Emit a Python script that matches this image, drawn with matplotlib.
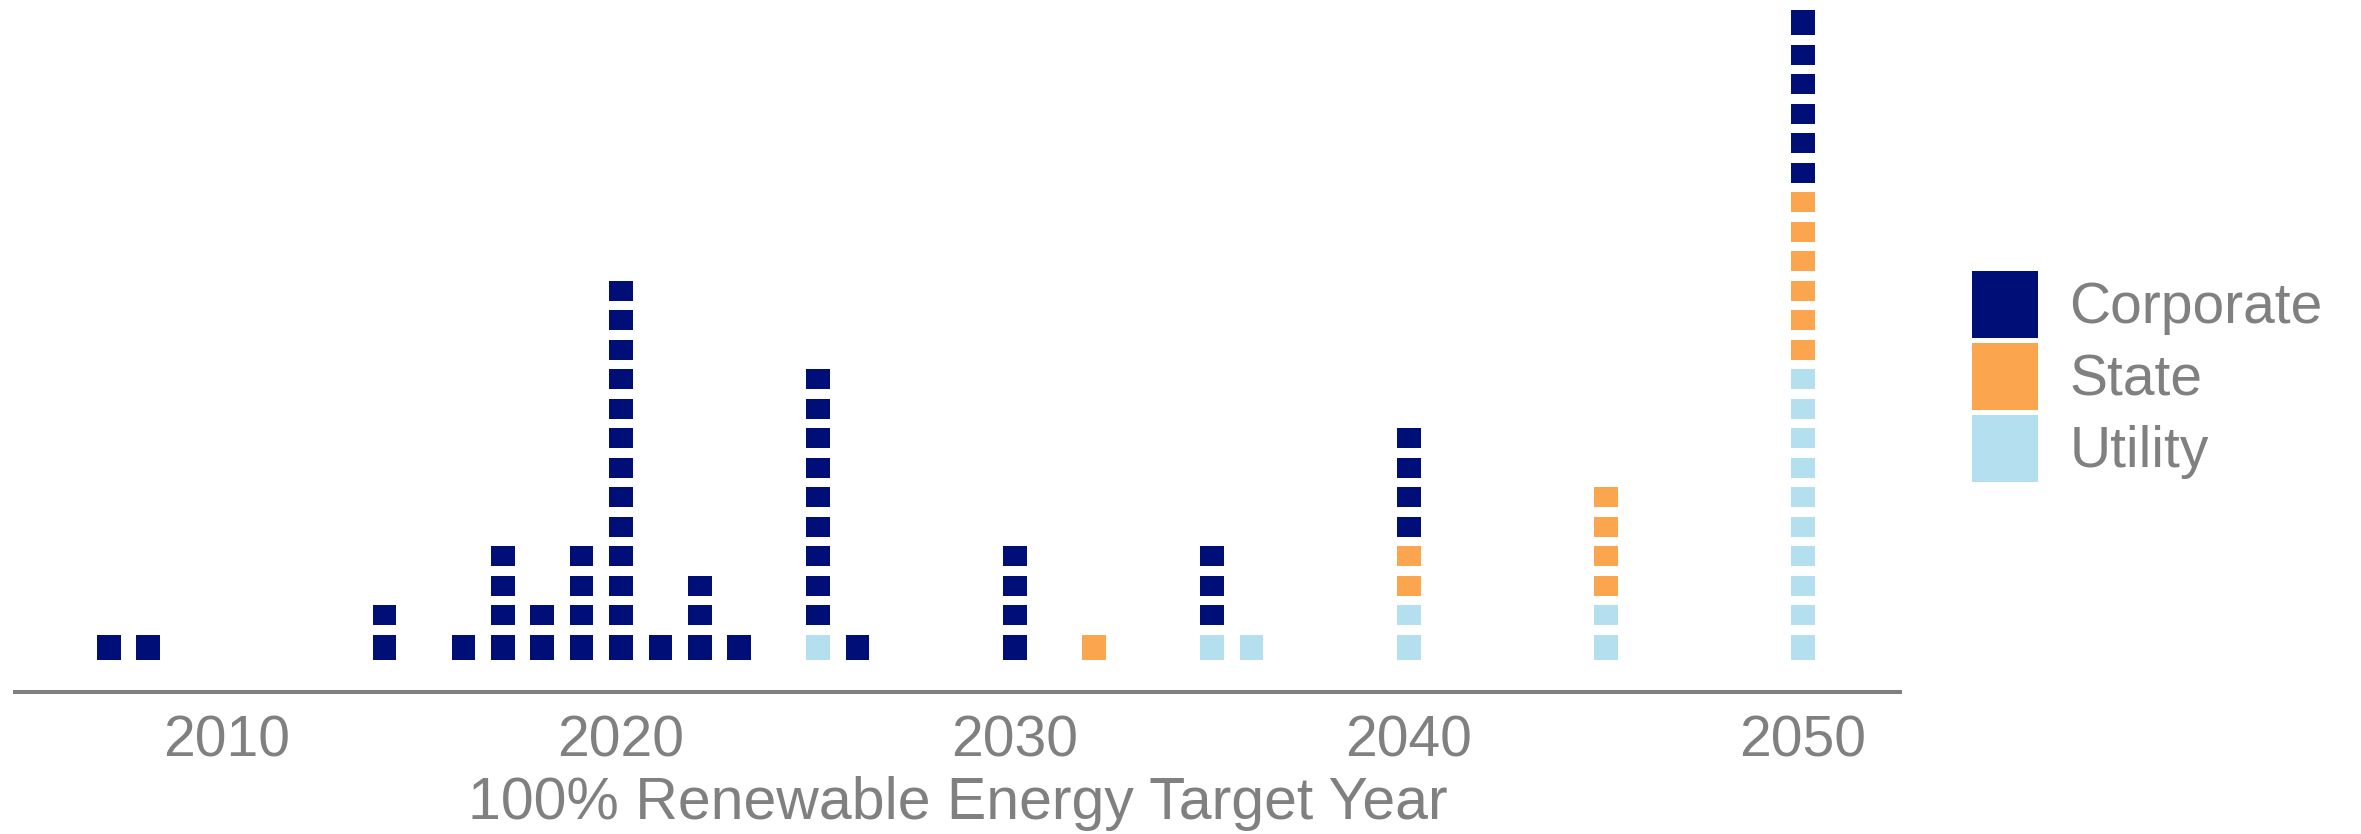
import matplotlib
matplotlib.use("Agg")
import matplotlib.pyplot as plt
from matplotlib.patches import Patch

# ---- data ----
years = [2007, 2008, 2014, 2016, 2017, 2018, 2019, 2020, 2021, 2022, 2023,
         2025, 2026, 2030, 2032, 2035, 2036, 2040, 2045, 2050]
utility = [0, 0, 0, 0, 0, 0, 0, 0, 0, 0, 0, 1, 0, 0, 0, 1, 1, 2, 2, 10]
state = [0, 0, 0, 0, 0, 0, 0, 0, 0, 0, 0, 0, 0, 0, 1, 0, 0, 2, 4, 6]
corporate = [1, 1, 2, 1, 4, 2, 4, 13, 1, 3, 1, 9, 1, 4, 0, 3, 0, 4, 0, 6]
categories = ["Corporate", "State", "Utility"]
tick_years = [2010, 2020, 2030, 2040, 2050]
xlabel = "100% Renewable Energy Target Year"

colors = {"Corporate": "#000e78", "State": "#fca54f", "Utility": "#b4dfee"}
grey = "#808080"

plt.rcParams["font.family"] = ["Liberation Sans", "DejaVu Sans"]

W, H = 2361, 834
fig = plt.figure(figsize=(W / 100, H / 100), dpi=100)
ax = fig.add_axes([15 / W, (H - 692) / H, 1885 / W, (692 - 7.6) / H])

sq_w = 0.6
sq_h = 0.68
ext = 0.18
max_row = max(u + s + c for u, s, c in zip(utility, state, corporate))

stack_order = [("Utility", utility), ("State", state), ("Corporate", corporate)]
for yi, yr in enumerate(years):
    row = 0
    for cat, vals in stack_order:
        for _ in range(vals[yi]):
            row += 1
            bottom = row - sq_h / 2
            height = sq_h
            if row == 1:
                bottom -= ext
                height += ext
            if row == max_row:
                height += ext
            ax.bar(yr, height, width=sq_w, bottom=bottom,
                   color=colors[cat], linewidth=0)

ax.set_xlim(2004.62, 2052.46)
ax.set_ylim(-0.603, 22.6)

for s in ["top", "left", "right"]:
    ax.spines[s].set_visible(False)
ax.spines["bottom"].set_color(grey)
ax.spines["bottom"].set_linewidth(2.9)
ax.set_yticks([])
ax.set_xticks(tick_years)
ax.set_xticklabels([str(t) for t in tick_years])
ax.tick_params(axis="x", length=0, pad=16.5, labelsize=41, labelcolor=grey)
ax.set_xlabel(xlabel, fontsize=42.5, color=grey, labelpad=5)

handles = [Patch(facecolor=colors[c], edgecolor="none", label=c) for c in categories]
fig.legend(handles=handles, loc="upper left",
           bbox_to_anchor=(1972 / W, 1 - 271 / H),
           frameon=False, fontsize=41, labelcolor=grey,
           handlelength=66 / 56.94, handleheight=1.431,
           handletextpad=0.55, labelspacing=0.088,
           borderpad=0, borderaxespad=0)

fig.savefig("out.png", dpi=100)
